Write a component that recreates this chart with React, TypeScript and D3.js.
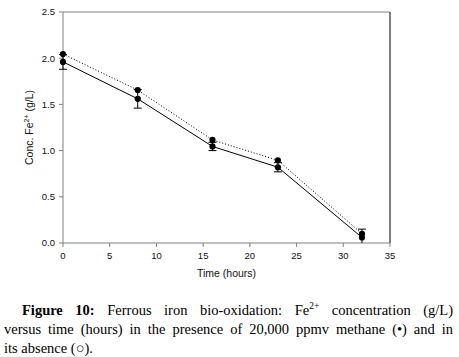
import React, { useMemo } from "react";
import * as d3 from "d3";

const times = [0, 8, 16, 23, 32];
const withMethane = [1.96, 1.56, 1.045, 0.82, 0.06];
const withMethaneErr = [0.08, 0.1, 0.045, 0.05, 0.09];
const withoutMethane = [2.045, 1.655, 1.115, 0.895, 0.1];
const xTicks = [0, 5, 10, 15, 20, 25, 30, 35];
const yTicks = [0, 0.5, 1.0, 1.5, 2.0, 2.5];

const captionLines = [
  { text: "Figure 10: Ferrous iron bio-oxidation: Fe^2+ concentration (g/L)", justify: true, indent: true },
  { text: "versus time (hours) in the presence of 20,000 ppmv methane (\u2022) and in", justify: true, indent: false },
  { text: "its absence (\u25CB).", justify: false, indent: false },
];

const W = 459, H = 357;
const M = { left: 63, right: 390, top: 12, bottom: 243 };
const CAP_FONT = 14.5;
const SERIF = '"Liberation Serif", "Times New Roman", serif';
const SANS = '"Liberation Sans", Arial, sans-serif';

type Seg = { t: string; bold?: boolean; sup?: boolean };

function wordSegs(word: string, lineIdx: number, wi: number): Seg[] {
  const bold = lineIdx === 0 && wi < 2;
  if (word.includes("^")) {
    const [a, b] = word.split("^");
    return [{ t: a, bold }, { t: b, bold, sup: true }];
  }
  return [{ t: word, bold }];
}

export default function App() {
  const x = d3.scaleLinear().domain([0, 35]).range([M.left, M.right]);
  const y = d3.scaleLinear().domain([0, 2.5]).range([M.bottom, M.top]);

  const lineGen = d3
    .line<[number, number]>()
    .x((d) => x(d[0]))
    .y((d) => y(d[1]));

  const caption = useMemo(() => {
    const canvas = document.createElement("canvas");
    const ctx = canvas.getContext("2d")!;
    const measure = (s: Seg) => {
      const size = s.sup ? CAP_FONT * 0.65 : CAP_FONT;
      ctx.font = `${s.bold ? "bold " : ""}${size}px ${SERIF}`;
      return ctx.measureText(s.t).width;
    };
    return captionLines.map((ln, li) => {
      const words = ln.text.split(" ");
      const segs = words.map((w, wi) => wordSegs(w, li, wi));
      const widths = segs.map((ss) => ss.reduce((a, s) => a + measure(s), 0));
      const x0 = ln.indent ? 22 : 4;
      const x1 = 453;
      const total = widths.reduce((a, b) => a + b, 0);
      ctx.font = `${CAP_FONT}px ${SERIF}`;
      const space = ctx.measureText(" ").width;
      const gap = ln.justify ? (x1 - x0 - total) / (words.length - 1) : space;
      let cx = x0;
      return segs.map((ss, i) => {
        const px = cx;
        cx += widths[i] + gap;
        return { segs: ss, x: px };
      });
    });
  }, []);

  const baselines = [315, 334, 353];

  return (
    <svg
      width={W}
      height={H}
      style={{ position: "absolute", left: 0, top: 0, background: "#fff" }}
    >
      <rect x={0} y={0} width={W} height={H} fill="#fff" />
      {/* frame */}
      <line x1={M.left} x2={M.right} y1={M.top} y2={M.top} stroke="#808080" strokeWidth={1} />
      <line x1={M.right} x2={M.right} y1={M.top} y2={M.bottom} stroke="#000" strokeWidth={1} />
      <line x1={M.left} x2={M.left} y1={M.top} y2={M.bottom} stroke="#808080" strokeWidth={1} />
      <line x1={M.left} x2={M.right} y1={M.bottom} y2={M.bottom} stroke="#808080" strokeWidth={1} />

      {/* y ticks */}
      {yTicks.map((t) => (
        <g key={"y" + t}>
          <line x1={M.left - 4} x2={M.left} y1={y(t)} y2={y(t)} stroke="#808080" />
          <text
            x={M.left - 8}
            y={y(t)}
            dy="0.35em"
            textAnchor="end"
            fontFamily={SANS}
            fontSize={9.5}
            fill="#111"
          >
            {d3.format(".1f")(t)}
          </text>
        </g>
      ))}
      {/* x ticks */}
      {xTicks.map((t) => (
        <g key={"x" + t}>
          <line x1={x(t)} x2={x(t)} y1={M.bottom} y2={M.bottom + 4} stroke="#808080" />
          <text
            x={x(t)}
            y={259}
            textAnchor="middle"
            fontFamily={SANS}
            fontSize={9.5}
            fill="#111"
          >
            {t}
          </text>
        </g>
      ))}

      <text x={(M.left + M.right) / 2} y={277} textAnchor="middle" fontFamily={SANS} fontSize={10.5} fill="#111">
        Time (hours)
      </text>
      <text
        transform={`translate(33, ${(M.top + M.bottom) / 2}) rotate(-90)`}
        textAnchor="middle"
        fontFamily={SANS}
        fontSize={10.5}
        fill="#111"
      >
        Conc. Fe
        <tspan fontSize={7} dy={-4}>2+</tspan>
        <tspan dy={4}> (g/L)</tspan>
      </text>

      {/* lines */}
      <path
        d={lineGen(times.map((t, i) => [t, withoutMethane[i]]) as [number, number][]) || ""}
        fill="none"
        stroke="#000"
        strokeWidth={1}
        strokeDasharray="1,2"
      />
      <path
        d={lineGen(times.map((t, i) => [t, withMethane[i]]) as [number, number][]) || ""}
        fill="none"
        stroke="#000"
        strokeWidth={1}
      />

      {/* error bars */}
      {times.map((t, i) => {
        const lo = Math.max(0, withMethane[i] - withMethaneErr[i]);
        const hi = withMethane[i] + withMethaneErr[i];
        return (
          <g key={"e" + i} stroke="#000" strokeWidth={1}>
            <line x1={x(t)} x2={x(t)} y1={y(lo)} y2={y(hi)} />
            {withMethane[i] - withMethaneErr[i] >= 0 && (
              <line x1={x(t) - 4} x2={x(t) + 4} y1={y(lo)} y2={y(lo)} />
            )}
            <line x1={x(t) - 4} x2={x(t) + 4} y1={y(hi)} y2={y(hi)} />
          </g>
        );
      })}

      {/* markers */}
      {times.map((t, i) => (
        <circle key={"a" + i} cx={x(t)} cy={y(withMethane[i])} r={3.1} fill="#000" />
      ))}
      {times.map((t, i) => (
        <circle key={"b" + i} cx={x(t)} cy={y(withoutMethane[i])} r={3.1} fill="#000" />
      ))}

      {/* caption */}
      {caption.map((words, li) => (
        <g key={"c" + li}>
          {words.map((w, wi) => (
            <text key={wi} x={w.x} y={baselines[li]} fontFamily={SERIF} fontSize={CAP_FONT} fill="#000">
              {w.segs.map((s, si) => (
                <tspan
                  key={si}
                  fontWeight={s.bold ? "bold" : "normal"}
                  fontSize={s.sup ? CAP_FONT * 0.65 : CAP_FONT}
                  dy={s.sup ? -6 : 0}
                >
                  {s.t}
                </tspan>
              ))}
            </text>
          ))}
        </g>
      ))}
    </svg>
  );
}
